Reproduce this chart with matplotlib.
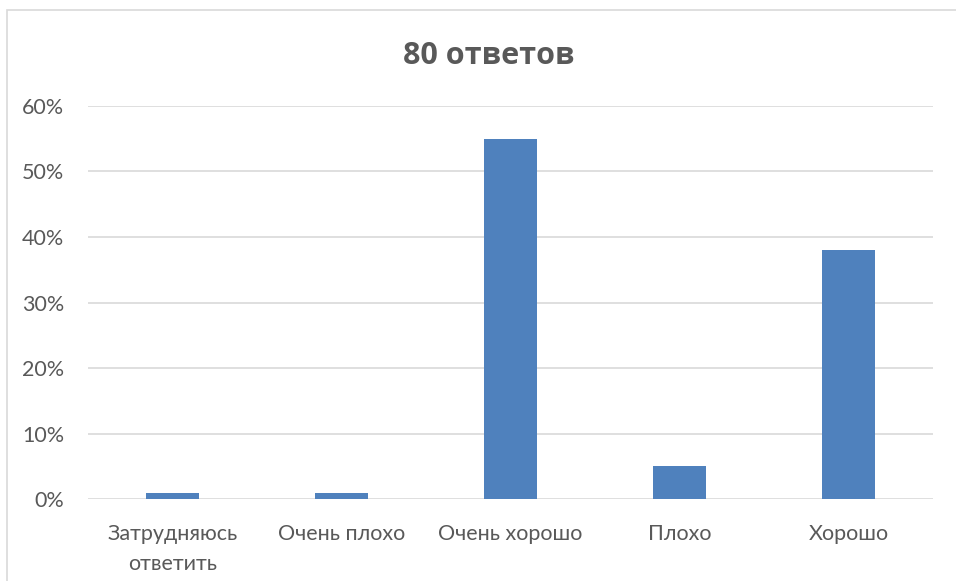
import matplotlib.pyplot as plt
from matplotlib.patches import Rectangle
from matplotlib.ticker import PercentFormatter

plt.rcParams['font.family'] = ['Lato', 'DejaVu Sans']

categories = ['Затрудняюсь\nответить', 'Очень плохо', 'Очень хорошо', 'Плохо', 'Хорошо']
shares = [1, 1, 55, 5, 38]
y_ticks = [0, 10, 20, 30, 40, 50, 60]

text_color = '#595959'
grid_color = '#d9d9d9'

fig = plt.figure(figsize=(9.56, 5.81), dpi=100)
# outer chart frame (only left and top edges visible in the screenshot)
fig.patches.append(Rectangle((0.0073, -0.05), 1.1, 0.983 + 0.05, transform=fig.transFigure,
                             fill=False, edgecolor=grid_color, linewidth=1.2))

ax = fig.add_axes([0.092, 0.141, 0.884, 0.6766])
ax.bar(range(len(categories)), shares, width=0.31, color='#4f81bd', zorder=3)

ax.set_xlim(-0.5, len(categories) - 0.5)
ax.set_ylim(0, 60)
ax.set_yticks(y_ticks)
ax.yaxis.set_major_formatter(PercentFormatter(decimals=0))
ax.set_xticks(range(len(categories)))
ax.set_xticklabels(categories, linespacing=1.65)

ax.grid(axis='y', color=grid_color, linewidth=1.2, zorder=0)
for s in ax.spines.values():
    s.set_visible(False)
ax.tick_params(axis='both', length=0, colors=text_color, labelsize=15.5)
ax.tick_params(axis='y', pad=17)
ax.tick_params(axis='x', pad=18)

fig.text(0.511, 0.903, '80 ответов', ha='center', va='center', fontsize=22,
         fontweight='bold', family=['Open Sans', 'DejaVu Sans'], color=text_color)

fig.savefig('out.png', dpi=100)
